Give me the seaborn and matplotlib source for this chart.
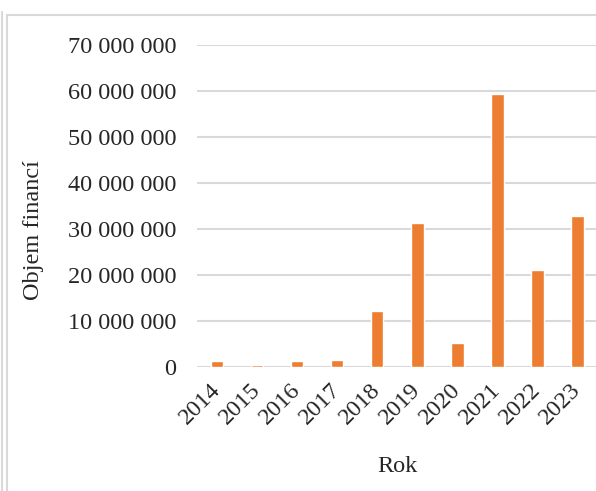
import numpy as np
import pandas as pd
import matplotlib
matplotlib.use('Agg')
import matplotlib.pyplot as plt
import seaborn as sns
from matplotlib.lines import Line2D

# data
years = ['2014', '2015', '2016', '2017', '2018', '2019', '2020', '2021', '2022', '2023']
volume = [1200000, 350000, 1200000, 1500000, 12100000, 31200000, 5150000, 59300000, 21000000, 32800000]
y_ticks = [0, 10000000, 20000000, 30000000, 40000000, 50000000, 60000000, 70000000]

sns.set_style('white')
plt.rcParams['font.family'] = ['Liberation Serif', 'DejaVu Serif']

df = pd.DataFrame({'Rok': years, 'Objem financí': volume})

W, H = 596, 491
fs = 17.5
fig = plt.figure(figsize=(W / 100, H / 100), dpi=100)
ax = fig.add_axes([197 / W, 1 - 367 / H, (W - 197) / W + 0.002, (367 - 44.7) / H])

sns.barplot(data=df, x='Rok', y='Objem financí', color='#ED7D31', saturation=1,
            width=0.32, ax=ax, zorder=3)

ax.set_ylim(0, 70000000)
ax.set_yticks(y_ticks)
ax.set_yticklabels([f'{v:,}'.replace(',', ' ') for v in y_ticks])
ax.yaxis.grid(True, color='#d9d9d9', linewidth=1.5, zorder=0)
ax.set_axisbelow(True)
for s in ax.spines.values():
    s.set_visible(False)
ax.tick_params(axis='y', length=0, pad=15, labelsize=fs)
ax.tick_params(axis='x', length=0, pad=14, labelsize=fs)
plt.setp(ax.get_xticklabels(), rotation=45, ha='right', va='center', rotation_mode='anchor')

ax.set_xlabel('')
ax.set_ylabel('')
fig.text(397 / W, 1 - 466 / H, 'Rok', ha='center', va='center', fontsize=fs)
fig.text(33 / W, 1 - 230 / H, 'Objem financí', ha='center', va='center',
         rotation=90, fontsize=fs)

# chart frame, cropped like the reference
col = '#d9d9d9'
fig.add_artist(Line2D([7.5 / W, 7.5 / W], [0, 1 - 15 / H], color=col, lw=1.5))
fig.add_artist(Line2D([7.5 / W, 1], [1 - 15 / H, 1 - 15 / H], color=col, lw=1.5))
fig.add_artist(Line2D([1.5 / W, 1.5 / W], [0, 1 - 12 / H], color=col, lw=1.5))

fig.savefig('out.png', dpi=100)
